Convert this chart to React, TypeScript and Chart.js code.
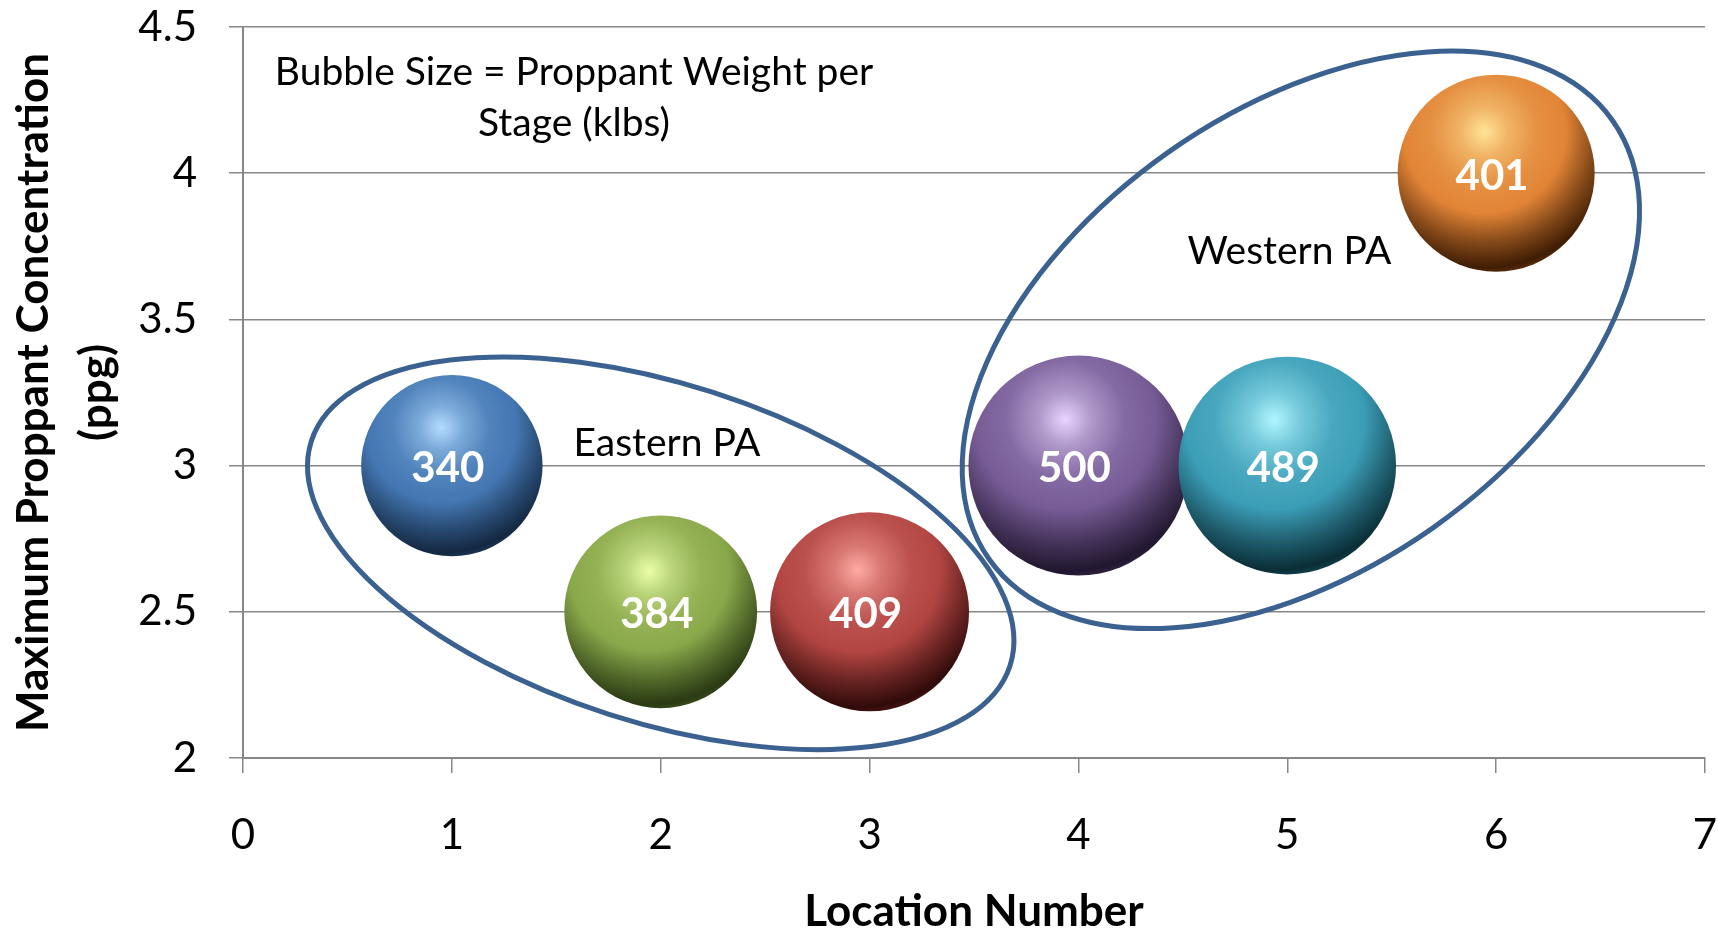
import React, { useEffect, useRef } from 'react';
import { Chart, registerables } from 'chart.js';

Chart.register(...registerables);

// ---- data ----
const locations = [1, 2, 3, 4, 5, 6];
const maxConcentration = [3, 2.5, 2.5, 3, 3, 4];
const proppantWeight = [340, 384, 409, 500, 489, 401];

const xMin = 0;
const xMax = 7;
const yMin = 2;
const yMax = 4.5;

const noteLines = ['Bubble Size = Proppant Weight per', 'Stage (klbs)'];
const groupNames = ['Eastern PA', 'Western PA'];

// ---- annotation geometry (data units) ----
const noteAt = { x: 1.585, y: [4.346, 4.17] };
const groupLabelX = [2.03, 5.01];
const groupLabelY = [3.077, 3.734];
const groupCenterX = [2.0, 5.065];
const groupCenterY = [2.7, 3.43];
const groupSemiMajor = [1.757, 1.825]; // in x-axis units
const groupSemiMinor = [0.81, 1.1]; // in x-axis units
const groupAngleDeg = [17.8, -35.1];

// ---- styles ----
const highlightColors = ['#b4dcff', '#eaffa8', '#ffaaa4', '#e8d4ff', '#b0f6ff', '#ffe496'];
const baseColors = ['#4477b3', '#89a84a', '#b24542', '#765b95', '#3b9db6', '#e28436'];
const shadeColors = ['#142842', '#2a3a13', '#300b0a', '#21172f', '#0a2e37', '#3f1d04'];
const MAX_BUBBLE_R = 110;
const FONT = 'Lato, "Open Sans", "DejaVu Sans", sans-serif';
const GRID = '#878787';
const ELLIPSE = '#3b6190';

function bubbleRadius(v: number) {
  const maxV = Math.max(...proppantWeight);
  return MAX_BUBBLE_R * Math.sqrt(v / maxV);
}

function mix(a: string, b: string, t: number) {
  const pa = [1, 3, 5].map((k) => parseInt(a.slice(k, k + 2), 16));
  const pb = [1, 3, 5].map((k) => parseInt(b.slice(k, k + 2), 16));
  const c = pa.map((v, k) => Math.round(v + (pb[k] - v) * t));
  return `rgb(${c[0]},${c[1]},${c[2]})`;
}

function sphereFill(c: any) {
  const i = c.dataIndex;
  if (c.type !== 'data' || i == null) return baseColors[0];
  const chart = c.chart;
  const xs = chart.scales && chart.scales.x;
  const ys = chart.scales && chart.scales.y;
  if (!xs || !ys) return baseColors[i];
  const cx = xs.getPixelForValue(locations[i]);
  const cy = ys.getPixelForValue(maxConcentration[i]);
  const r = bubbleRadius(proppantWeight[i]);
  if (![cx, cy, r].every((n) => Number.isFinite(n))) return baseColors[i];
  const hx = cx - 0.12 * r;
  const hy = cy - 0.42 * r;
  const g = chart.ctx.createRadialGradient(hx, hy, 0, hx, hy, 1.5 * r);
  g.addColorStop(0, highlightColors[i]);
  g.addColorStop(0.16, mix(highlightColors[i], baseColors[i], 0.5));
  g.addColorStop(0.36, mix(highlightColors[i], baseColors[i], 0.88));
  g.addColorStop(0.55, baseColors[i]);
  g.addColorStop(0.76, mix(baseColors[i], shadeColors[i], 0.6));
  g.addColorStop(0.92, shadeColors[i]);
  g.addColorStop(1, mix(shadeColors[i], baseColors[i], 0.3));
  return g;
}

const overlayPlugin = {
  id: 'overlay',
  afterDatasetsDraw(chart: any) {
    const { ctx } = chart;
    const xs = chart.scales.x;
    const ys = chart.scales.y;
    const pxPerX = xs.getPixelForValue(1) - xs.getPixelForValue(0);
    ctx.save();
    ctx.strokeStyle = ELLIPSE;
    ctx.lineWidth = 5;
    for (let k = 0; k < groupNames.length; k++) {
      ctx.beginPath();
      ctx.ellipse(
        xs.getPixelForValue(groupCenterX[k]),
        ys.getPixelForValue(groupCenterY[k]),
        groupSemiMajor[k] * pxPerX,
        groupSemiMinor[k] * pxPerX,
        (groupAngleDeg[k] * Math.PI) / 180,
        0,
        Math.PI * 2
      );
      ctx.stroke();
    }
    ctx.fillStyle = '#000';
    ctx.textAlign = 'center';
    ctx.textBaseline = 'middle';
    ctx.font = `39px ${FONT}`;
    noteLines.forEach((t, j) => {
      ctx.fillText(t, xs.getPixelForValue(noteAt.x), ys.getPixelForValue(noteAt.y[j]));
    });
    groupNames.forEach((t, k) => {
      ctx.fillText(t, xs.getPixelForValue(groupLabelX[k]), ys.getPixelForValue(groupLabelY[k]));
    });
    const meta = chart.getDatasetMeta(0);
    ctx.fillStyle = '#fff';
    ctx.font = `bold 42px ${FONT}`;
    meta.data.forEach((el: any, i: number) => {
      ctx.fillText(String(proppantWeight[i]), el.x - 4, el.y + 3);
    });
    ctx.restore();
  },
};

export default function App() {
  const ref = useRef<HTMLCanvasElement | null>(null);
  useEffect(() => {
    if (!ref.current) return;
    const chart = new Chart(ref.current, {
      type: 'bubble',
      data: {
        datasets: [
          {
            label: 'Proppant Weight per Stage (klbs)',
            data: locations.map((x, i) => ({
              x,
              y: maxConcentration[i],
              r: bubbleRadius(proppantWeight[i]),
            })),
            backgroundColor: sphereFill as any,
            borderWidth: 0,
            hoverBorderWidth: 0,
            clip: false as any,
          },
        ],
      },
      plugins: [overlayPlugin],
      options: {
        responsive: false,
        animation: false,
        events: [],
        layout: { autoPadding: false, padding: { top: 27, right: 13, left: 0, bottom: 0 } },
        plugins: {
          legend: { display: false },
          tooltip: { enabled: false },
        },
        scales: {
          x: {
            type: 'linear',
            min: xMin,
            max: xMax,
            afterFit: (s: any) => {
              s.height = 176;
              s.paddingLeft = 0;
              s.paddingRight = 0;
            },
            ticks: {
              stepSize: 1,
              color: '#000',
              font: { family: FONT, size: 42 },
              padding: 37,
              callback: (v: any) => String(v),
            },
            grid: {
              drawOnChartArea: false,
              drawTicks: true,
              tickLength: 15,
              tickColor: GRID,
              lineWidth: 1.5,
            },
            border: { color: GRID, width: 2 },
            title: {
              display: true,
              text: 'Location Number',
              color: '#000',
              font: { family: FONT, size: 44, weight: 'bold', lineHeight: 1.0 },
              padding: { top: 0, bottom: 0 },
            },
          },
          y: {
            type: 'linear',
            min: yMin,
            max: yMax,
            afterFit: (s: any) => {
              s.width = 243;
              s.paddingTop = 0;
              s.paddingBottom = 0;
            },
            ticks: {
              stepSize: 0.5,
              color: '#000',
              font: { family: FONT, size: 42 },
              padding: 32,
              callback: (v: any) => String(v),
            },
            grid: {
              color: GRID,
              lineWidth: 1.5,
              drawTicks: true,
              tickLength: 14,
              tickColor: GRID,
            },
            border: { color: GRID, width: 2 },
            title: {
              display: true,
              text: ['Maximum Proppant Concentration', '(ppg)'],
              color: '#000',
              font: { family: FONT, size: 44, weight: 'bold', lineHeight: 1.42 },
              padding: { top: 3, bottom: 0 },
            },
          },
        },
      },
    });
    return () => chart.destroy();
  }, []);
  return (
    <div style={{ position: 'fixed', left: 0, top: 0, width: 1718, height: 934, background: '#fff' }}>
      <canvas ref={ref} width={1718} height={934} style={{ display: 'block' }} />
    </div>
  );
}
